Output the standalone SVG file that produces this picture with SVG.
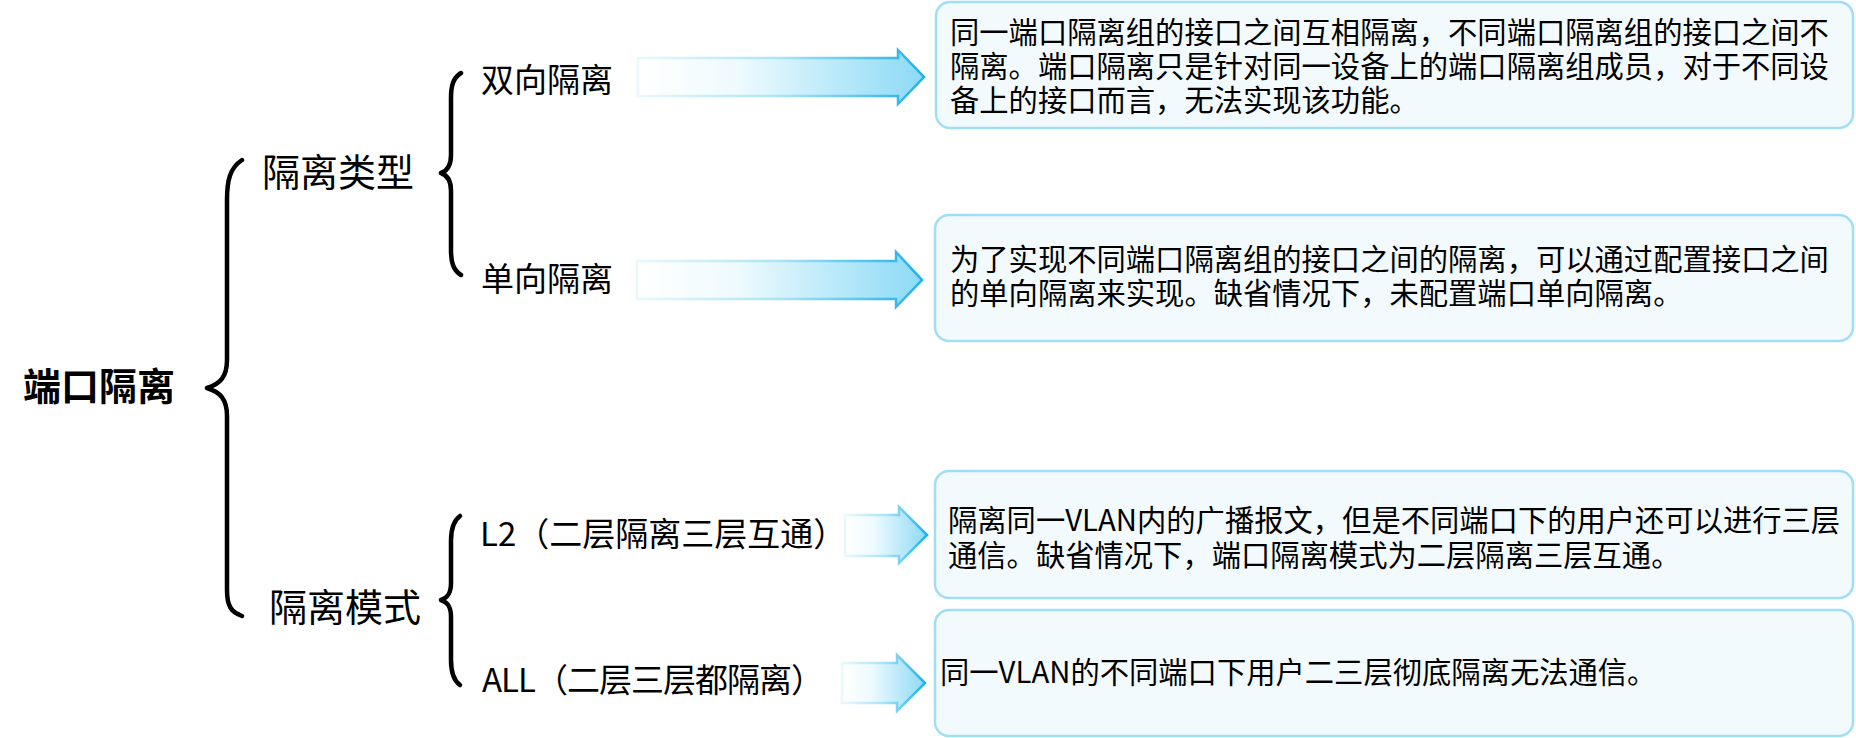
<svg xmlns="http://www.w3.org/2000/svg" width="1856" height="738" viewBox="0 0 1856 738">
<defs>
<linearGradient id="af" x1="0" y1="0" x2="1" y2="0">
<stop offset="0" stop-color="#ffffff"/>
<stop offset="0.35" stop-color="#eefafe"/>
<stop offset="1" stop-color="#8cdaf5"/>
</linearGradient>
<linearGradient id="as" x1="0" y1="0" x2="1" y2="0">
<stop offset="0" stop-color="#eaf8fd"/>
<stop offset="0.5" stop-color="#a9e3f7"/>
<stop offset="1" stop-color="#1cb0ea"/>
</linearGradient>
<style>
.t{font-family:"Noto Sans CJK SC","Noto Sans",sans-serif;fill:#000}
.l1{font-size:38px;font-weight:bold}
.l2{font-size:38px}
.l3{font-size:33px}
.d{font-size:29.3px}
.brace{fill:none;stroke:#000;stroke-width:4.5;stroke-linecap:round;stroke-linejoin:round}
.arrow{fill:url(#af);stroke:url(#as);stroke-width:2.5}
.box{fill:#f3fafd;stroke:#9fdef5;stroke-width:2.5}
</style>
</defs>
<rect width="1856" height="738" fill="#ffffff"/>

<g id="connectors">
<path class="brace" d="M242,160 C230,168 227,180 227,200 L227,360 C227,377 220,384 207,388 C220,392 227,399 227,416 L227,590 C227,606 231,612 242,616"/>
<path class="brace" d="M461,73 C453,78 451,86 451,98 L451,155 C451,166 447,171 441,173 C447,175 451,180 451,191 L451,250 C451,262 453,270 461,275"/>
<path class="brace" d="M460,516 C453,521 451,529 451,541 L451,583 C451,594 447,598 441,600 C447,602 451,606 451,617 L451,660 C451,672 453,680 460,685"/>
<polygon class="arrow" points="638,58 898,58 898,50 924,77 898,104 898,96 638,96"/>
<polygon class="arrow" points="637,261 896,261 896,252 922,280 896,307 896,299 637,299"/>
<polygon class="arrow" points="845,515 899,515 899,507 927,535 899,563 899,556 845,556"/>
<polygon class="arrow" points="842,663 897,663 897,655 925,683 897,711 897,703 842,703"/>
</g>

<g id="root"><text class="t l1" x="23" y="400">端口隔离</text></g>
<g id="type"><text class="t l2" x="262" y="186">隔离类型</text></g>
<g id="mode"><text class="t l2" x="269" y="621">隔离模式</text></g>
<g id="bidir"><text class="t l3" x="481" y="92">双向隔离</text></g>
<g id="unidir"><text class="t l3" x="481" y="291">单向隔离</text></g>
<g id="l2"><text class="t l3" x="480" y="546">L2（二层隔离三层互通）</text></g>
<g id="all"><text class="t l3" x="482" y="692" letter-spacing="-1">ALL（二层三层都隔离）</text></g>

<g id="box-bidir">
<rect class="box" x="936" y="2" width="917" height="126" rx="14"/>
<text class="t d" x="950" y="43">同一端口隔离组的接口之间互相隔离，不同端口隔离组的接口之间不<tspan x="950" dy="34">隔离。端口隔离只是针对同一设备上的端口隔离组成员，对于不同设</tspan><tspan x="950" dy="34">备上的接口而言，无法实现该功能。</tspan></text>
</g>
<g id="box-unidir">
<rect class="box" x="935" y="215" width="918" height="126" rx="14"/>
<text class="t d" x="950" y="270">为了实现不同端口隔离组的接口之间的隔离，可以通过配置接口之间<tspan x="950" dy="34">的单向隔离来实现。缺省情况下，未配置端口单向隔离。</tspan></text>
</g>
<g id="box-l2">
<rect class="box" x="935" y="471" width="918" height="127" rx="14"/>
<text class="t d" x="948" y="531">隔离同一VLAN内的广播报文，但是不同端口下的用户还可以进行三层<tspan x="948" dy="35">通信。缺省情况下，端口隔离模式为二层隔离三层互通。</tspan></text>
</g>
<g id="box-all">
<rect class="box" x="935" y="610" width="918" height="126" rx="14"/>
<text class="t d" x="940" y="683">同一VLAN的不同端口下用户二三层彻底隔离无法通信。</text>
</g>
</svg>
